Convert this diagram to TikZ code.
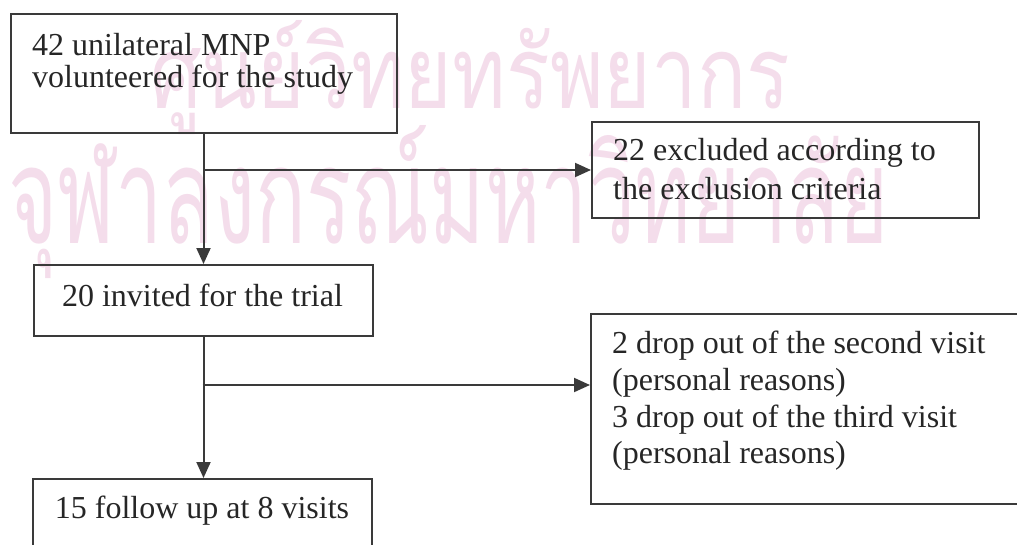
\documentclass[tikz,border=0pt]{standalone}
\usepackage{fontspec}
\usepackage{graphicx}
\setmainfont{Liberation Serif}
\newfontfamily\thaifont[Script=Thai]{Loma}
\usetikzlibrary{arrows.meta}
\definecolor{ink}{RGB}{38,38,38}
\definecolor{rule}{RGB}{58,58,58}
\definecolor{stamp}{RGB}{244,221,235}
\begin{document}
\begin{tikzpicture}[x=1pt,y=-1pt,
  box/.style={draw=rule, line width=2pt, rectangle, inner sep=0pt, anchor=north west},
  txt/.style={anchor=base west, inner sep=0pt, text=ink, font=\fontsize{32}{32}\selectfont},
  ctxt/.style={anchor=base, inner sep=0pt, text=ink, font=\fontsize{32}{32}\selectfont},
  flow/.style={draw=rule, line width=2pt, -{Triangle[length=16pt,width=14pt]}},
  stampline/.style={anchor=base west, inner sep=0pt, text=stamp, font=\thaifont}
]
\useasboundingbox (0,0) rectangle (1017,544);
\clip (0,0) rectangle (1017,544);

% library stamp behind the chart
\node[stampline] (wmA) at (150,108) {\resizebox{640pt}{88pt}{ศูนย์วิทยทรัพยากร}};
\node[stampline] (wmB) at (8,243) {\resizebox{880pt}{118pt}{จุฬาลงกรณ์มหาวิทยาลัย}};

% boxes
\node[box, minimum width=386pt, minimum height=119pt] (a) at (10,13) {};
\node[box, minimum width=339pt, minimum height=71pt]  (b) at (33,264) {};
\node[box, minimum width=387pt, minimum height=96pt]  (c) at (591,121) {};
\node[box, minimum width=339pt, minimum height=120pt] (d) at (32,478) {};
\node[box, minimum width=500pt, minimum height=190pt] (e) at (590,313) {};

% box texts
\node[txt] (a1) at (32,55) {42 unilateral MNP};
\node[txt] (a2) at (32,87) {volunteered for the study};
\node[ctxt] (b1) at (202.5,306) {20 invited for the trial};
\node[txt] (c1) at (613,160) {22 excluded according to};
\node[txt] (c2) at (613,199) {the exclusion criteria};
\node[ctxt] (d1) at (202,518) {15 follow up at 8 visits};
\node[txt] (e1) at (612,353) {2 drop out of the second visit};
\node[txt] (e2) at (612,390) {(personal reasons)};
\node[txt] (e3) at (612,427) {3 drop out of the third visit};
\node[txt] (e4) at (612,463) {(personal reasons)};

% connectors
\coordinate (fork) at (202.5,385);
\draw[flow] (b.north |- a.south) -- (b.north);
\draw[flow] (b.north |- c.west) -- (c.west);
\draw[flow] (b.south) -- (b.south |- d.north);
\draw[flow] (fork) -- (fork -| e.west);
\end{tikzpicture}
\end{document}
